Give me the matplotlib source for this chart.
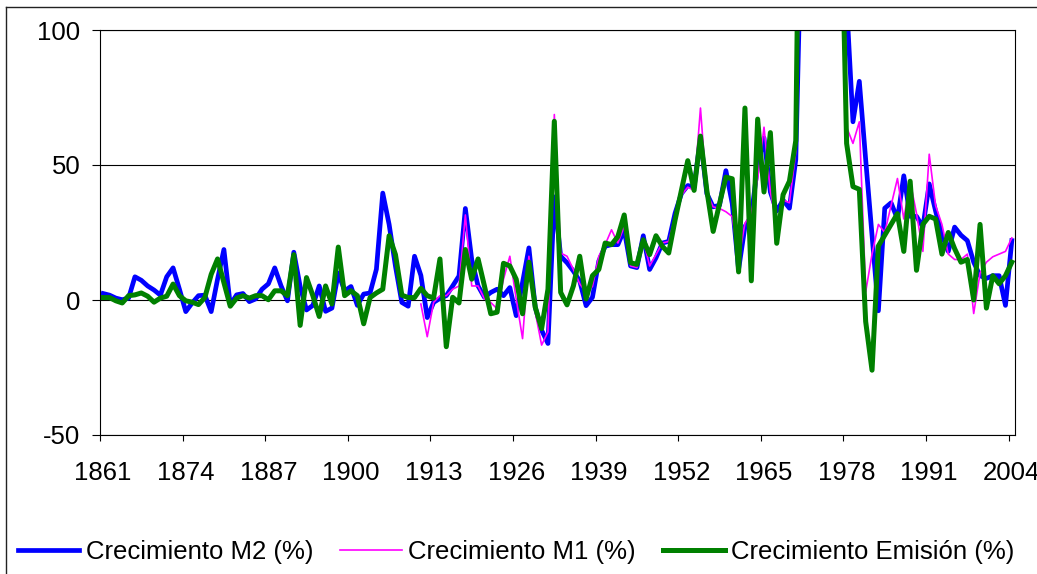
import numpy as np
import matplotlib
matplotlib.use("Agg")
import matplotlib.pyplot as plt
from matplotlib.lines import Line2D

# Datos: crecimiento anual (%) 1861-2004
anios = list(range(1861, 2005))

m2 = [2.4, 1.8, 0.7, 0.1, 0.7, 8.6, 7.3, 5.2, 3.7, 1.8,
      8.6, 11.9, 4.0, -4.3, -1.1, 1.6, 1.8, -4.3, 7.7, 18.7,
      -1.8, 1.9, 2.4, -0.6, 0.4, 4.0, 6.0, 11.9, 5.2, -0.3,
      17.7, 5.0, -3.7, -2.0, 5.2, -4.2, -3.0, 10.0, 3.4, 5.0,
      -2.0, 2.2, 2.6, 11.4, 39.6, 28.0, 12.5, -0.9, -2.3, 16.2,
      9.1, -6.5, -0.9, 0.6, 1.6, 5.2, 8.9, 33.9, 15.0, 5.2,
      1.0, 2.8, 4.0, 1.6, 4.6, -5.8, 6.5, 19.3, -2.7, -11.2,
      -16.1, 38.2, 16.2, 13.8, 10.7, 7.0, -2.1, 1.0, 14.4, 19.9,
      20.5, 20.5, 26.0, 12.6, 12.0, 23.8, 11.3, 15.6, 21.1, 21.7,
      32.1, 39.4, 42.4, 41.8, 60.1, 39.4, 34.5, 35.1, 47.9, 35.7,
      11.3, 27.2, 30.9, 50.0, 60.0, 40.0, 33.0, 37.0, 34.0, 52.0,
      150, 250, 300, 300, 250, 200, 180, 110, 66, 81,
      52, 24, -4, 34, 36, 30, 46, 31, 31, 27,
      43, 33, 24, 18, 27, 24, 22, 14, 9, 8,
      9, 9, -2, 22]

# M1 solo desde 1911
anios_m1 = list(range(1911, 2005))
m1 = [-1.5, -13.6, -0.9, 1.6, 1.6, 4.0, 5.2, 31.5, 5.2, 5.2,
      0.4, -0.9, -3.3, 7.7, 16.2, 0.4, -14.3, 16.2, -4.5, -16.7,
      -11.8, 68.7, 17.4, 16.2, 11.3, 6.0, 2.8, 5.0, 16.2, 20.5,
      26.0, 21.1, 27.2, 12.6, 12.0, 22.3, 12.6, 16.8, 21.1, 21.7,
      30.9, 38.8, 41.8, 40.6, 71.1, 39.4, 34.5, 33.9, 32.7, 30.9,
      15.0, 28.4, 32.1, 45, 64, 40, 28, 37, 36, 55,
      160, 260, 320, 320, 260, 220, 170, 64, 58, 66,
      3, 17, 28, 25, 35, 45, 30, 44, 32, 18,
      54, 35, 28, 17, 15, 15, 17, -5, 10, 14,
      16, 17, 18, 23]

emision = [0.9, 0.9, -0.3, -1.1, 1.6, 1.9, 2.6, 1.4, -0.8, 0.7,
           1.4, 5.9, 1.6, -0.3, -0.8, -1.7, 0.9, 9.5, 15.2, 6.5,
           -2.3, 0.7, 1.6, 0.7, 1.6, 1.6, 0.1, 3.4, 3.4, 1.6,
           16.8, -9.4, 8.3, 1.6, -6.1, 5.2, -1.5, 19.6, 1.6, 3.4,
           1.6, -8.8, 0.9, 2.6, 4.0, 23.8, 16.8, 1.8, 0.9, 0.9,
           4.3, 1.6, 0.7, 15.2, -17.3, 1.0, -1.1, 18.7, 7.7, 15.2,
           5.2, -5.1, -4.5, 13.6, 12.6, 7.7, -5.1, 14.0, -2.7, -10.6,
           4.0, 66.2, 2.8, -1.8, 5.2, 16.2, 0.4, 9.0, 11.3, 21.1,
           20.5, 23.5, 31.5, 13.8, 13.2, 22.3, 16.8, 23.8, 19.9, 17.4,
           29.6, 40.6, 51.6, 40.6, 60.7, 40.6, 25.4, 35.7, 45.5, 44.9,
           10.4, 71.1, 7.1, 67, 40, 62, 21, 39, 44, 59,
           250, 300, 350, 350, 300, 250, 165, 58, 42, 41,
           -8, -26, 20, 24, 28, 32, 18, 44, 11, 28,
           31, 30, 17, 25, 19, 14, 15, 0, 28, -3,
           9, 6, 9, 14]

etiquetas = ["Crecimiento M2 (%)", "Crecimiento M1 (%)", "Crecimiento Emisión (%)"]

plt.rcParams['font.family'] = ['Liberation Sans', 'DejaVu Sans']
plt.rcParams['axes.unicode_minus'] = False

fig = plt.figure(figsize=(10.37, 5.74), dpi=100)
ax = fig.add_axes([100 / 1037, 1 - 435 / 574, 915 / 1037, 405 / 574])

l1, = ax.plot(anios, m2, color='#0000FF', lw=3.4, solid_joinstyle='round')
l2, = ax.plot(anios_m1, m1, color='#FF00FF', lw=1.2)
l3, = ax.plot(anios, emision, color='#008000', lw=3.6, solid_joinstyle='round')

ax.set_ylim(-50, 100)
ax.set_xlim(1860.5, 2004.5)

# Eje Y
ax.set_yticks([-50, 0, 50, 100])
ax.tick_params(axis='y', direction='out', length=6, width=0.8, pad=8, labelsize=18.5)
ax.yaxis.grid(True, color='black', lw=0.8)
ax.set_axisbelow(True)

# Eje X: etiquetas cada 13 años, marcas entre categorías
ax.set_xticks(list(range(1861, 2005, 13)))
ax.set_xticks([a - 0.5 for a in range(1861, 2005, 13)], minor=True)
ax.tick_params(axis='x', which='major', length=0, pad=19, labelsize=18.5)
ax.tick_params(axis='x', which='minor', direction='out', length=4, width=0.8)

for s in ax.spines.values():
    s.set_color('black')
    s.set_linewidth(0.8)

# Leyenda abajo
fig.legend([l1, l2, l3], etiquetas, loc='center', bbox_to_anchor=(0.4976, 1 - 552 / 574),
           ncol=3, frameon=False, fontsize=18.5, handlelength=2.4, handletextpad=0.25,
           columnspacing=1.05, borderpad=0)

# Borde del área del gráfico
fig.add_artist(Line2D([6 / 1037, 1], [1 - 7 / 574, 1 - 7 / 574], transform=fig.transFigure,
                      color='#222222', lw=1.0))
fig.add_artist(Line2D([6 / 1037, 6 / 1037], [0, 1 - 7 / 574], transform=fig.transFigure,
                      color='#222222', lw=1.0))

fig.savefig("out.png", dpi=100)
